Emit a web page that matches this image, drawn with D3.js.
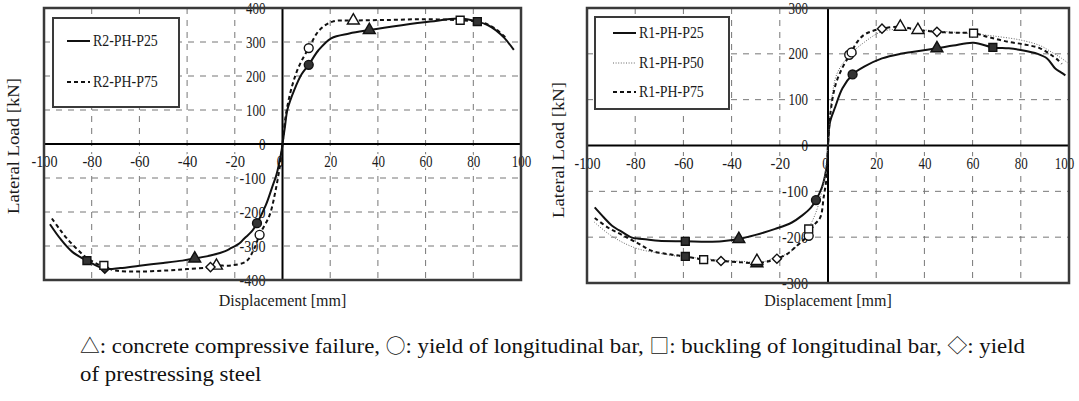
<html>
<head>
<script src="https://cdn.jsdelivr.net/npm/d3@7"></script>
<style>body { margin: 0; background: #fff; }</style>
</head>
<body>
<div id="output"></div>
<script>
    var width = 1079;
    var height = 401;

    var labelFont = '"Liberation Serif", "DejaVu Serif", serif';
    var serifFont = '"Liberation Serif", "DejaVu Serif", serif';
    var symbolFont = '"Noto Sans CJK SC", "DejaVu Sans", sans-serif';
    var inkColor = '#1a1a1a';
    var gridColor = '#777';
    var frameColor = '#3a3a3a';

    // tick values
    var xTicks = [-100, -80, -60, -40, -20, 0, 20, 40, 60, 80, 100];
    var r2YTicks = [-400, -300, -200, -100, 0, 100, 200, 300, 400];
    var r1YTicks = [-300, -200, -100, 0, 100, 200, 300];

    // R2 specimens (left chart), [displacement mm, load kN]
    var r2P25 = [[-97.5,-236],[-93,-280],[-88,-318],[-82,-343],[-74.5,-367],[-68,-365],[-60,-358],[-50,-350],
        [-42,-343],[-36.8,-337],[-29,-326],[-24,-315],[-22,-308],[-18,-292],[-15.9,-277],[-13,-258],[-10.7,-233],
        [-7,-180],[-4,-120],[-2.6,-92],[-0.5,-24],[0,0],[1,50],[2.1,102],[5,160],[8,205],[11,233],[15,275],
        [20.4,311],[28,325],[36.4,335],[50,349],[62,360],[74,369],[81.7,360],[86,350],[89.4,335],[93,312],[97,277]];
    var r2P75 = [[-96.7,-219],[-93.5,-250],[-90.5,-277],[-86,-310],[-82,-335],[-76,-358],[-70,-372],[-60,-375],
        [-48.7,-372],[-40,-368],[-30.2,-362],[-27.7,-358],[-21.5,-357],[-15.2,-345],[-12,-310],[-9.6,-267],
        [-5.4,-209],[-3,-140],[-1,-60],[0,0],[1.5,90],[4,170],[7,230],[11,282],[15.5,335],[21,360],[29.7,363],
        [45,365],[60,367],[74.5,364],[81.7,360],[86,352],[90,335],[94,310]];

    // R1 specimens (right chart)
    var r1P25 = [[-96.8,-135],[-93,-157],[-89.6,-175],[-85,-190],[-81.3,-201],[-75,-205],[-70.3,-208],[-59.2,-209],
        [-50,-210],[-44,-209],[-37,-204],[-30,-195],[-21.9,-182],[-15,-168],[-10.8,-153],[-7,-135],[-5,-119],
        [-2.5,-91],[-0.4,-40],[0,0],[0.8,50],[3,84],[6,125],[10.2,155],[15,172],[22.4,190],[30,200],[34.9,204],
        [45.2,212],[52,218],[60.4,224],[68.4,214],[75,212],[80.5,208],[87,200],[90.9,190],[94.3,168],[96.5,160],[98.5,153]];
    var r1P50 = [[-97,-167],[-91,-193],[-85,-212],[-78.5,-226],[-70,-235],[-63.4,-241],[-55,-245],[-45,-250],
        [-35,-253],[-28,-255],[-22,-245],[-19,-241],[-14,-225],[-10.8,-201],[-7,-170],[-4,-130],[-1.5,-70],[0,0],
        [1.5,100],[4,160],[9.5,200],[15,225],[22,248],[30,254],[40,252],[50,248],[60,244],[70,238],[80,230],
        [88,218],[93,203],[97,190],[100,178]];
    var r1P75 = [[-96.8,-158],[-91,-180],[-85.5,-195],[-79,-213],[-73,-230],[-65,-238],[-59.2,-242],[-51.6,-249],
        [-44.4,-252],[-35.7,-255],[-29.5,-257],[-25,-253],[-21.2,-247],[-17,-237],[-13.6,-222],[-9,-200],[-6,-175],
        [-3.2,-157],[-1.8,-113],[-0.4,-62],[0,0],[1,70],[3,130],[6,170],[9.3,200],[12,225],[14.8,241],[18,249],
        [22.4,255],[30,259],[37.3,252],[45.2,248],[52,246],[60.4,245],[67,236],[75,226],[82,220],[88,212],
        [92,200],[95.7,185],[97,178]];

    // damage markers: [x, y, shape, filled]
    var r2Marks = [[11,233,'circle',1],[36.4,335,'triangle',1],[81.7,360,'square',1],
        [-10.7,-233,'circle',1],[-36.8,-337,'triangle',1],[-82,-343,'square',1],[-74.5,-367,'diamond',1],
        [11,282,'circle',0],[29.7,363,'triangle',0],[74.5,364,'square',0],
        [-9.6,-267,'circle',0],[-27.7,-358,'triangle',0],[-30.2,-362,'diamond',0],[-74.9,-357,'square',0]];
    var r1Marks = [[10.2,155,'circle',1],[45.2,212,'triangle',1],[68.4,214,'square',1],
        [-5,-119,'circle',1],[-37,-204,'triangle',1],[-59.2,-209,'square',1],
        [8.8,198,'circle',0],[9.8,203,'circle',0],[22.4,255,'diamond',0],[30,259,'triangle',0],[37.3,252,'triangle',0],
        [45.2,248,'diamond',0],[60.4,245,'square',0],
        [-59.2,-242,'square',1],[-51.6,-249,'square',0],[-44.4,-252,'diamond',0],[-29.5,-257,'triangle',1],
        [-29.5,-252,'triangle',0],[-21.2,-247,'diamond',0],[-8,-197,'circle',0],[-8,-182,'square',0]];

    // caption pieces: [text, isSymbol]
    var captionLine1 = [['\u25B3', 1], [': concrete compressive failure,  ', 0], ['\u25CB', 1], [': yield of longitudinal bar,  ', 0],
        ['\u25A1', 1], [': buckling of longitudinal bar,  ', 0], ['\u25C7', 1], [': yield', 0]];
    var captionLine2 = 'of prestressing steel';

    var styles = {
        solid:  {dash: null,    width: 2,   color: '#111'},
        dotted: {dash: '1,1.6', width: 1,   color: '#666'},
        dashed: {dash: '4,3',   width: 2,   color: '#111'}
    };

    var svg = d3.select('#output').append('svg')
        .attr('width', width)
        .attr('height', height)
        .style('display', 'block');

    // squeeze text so it looks like the narrow half-width glyphs
    var squeeze = function(sel, charW) {
        sel.attr('textLength', function() { return this.textContent.length * charW; })
           .attr('lengthAdjust', 'spacingAndGlyphs');
    };

    var drawPanel = function(p) {
        var x = d3.scaleLinear().domain([-100, 100]).range([p.left, p.right]);
        var y = d3.scaleLinear().domain([-p.yMax, p.yMax]).range([p.bottom, p.top]);
        var g = svg.append('g');

        // dashed grid
        g.selectAll('.vg').data(xTicks.filter(d => d !== 0 && Math.abs(d) !== 100)).enter()
            .append('line')
            .attr('x1', d => x(d)).attr('x2', d => x(d))
            .attr('y1', p.top).attr('y2', p.bottom)
            .attr('stroke', gridColor).attr('stroke-width', 1).attr('stroke-dasharray', '6,6');
        g.selectAll('.hg').data(p.yTicks.filter(d => d !== 0 && Math.abs(d) !== p.yMax)).enter()
            .append('line')
            .attr('x1', p.left).attr('x2', p.right)
            .attr('y1', d => y(d)).attr('y2', d => y(d))
            .attr('stroke', gridColor).attr('stroke-width', 1).attr('stroke-dasharray', '6,6');

        // tick labels
        var yAxis = d3.axisLeft(y).tickValues(p.yTicks).tickSize(0).tickPadding(p.yPad).tickFormat(d => String(d));
        var ya = g.append('g').attr('transform', 'translate(' + x(0) + ',0)').call(yAxis);
        ya.select('.domain').remove();
        ya.selectAll('text')
            .attr('font-family', labelFont).attr('font-size', 16).attr('fill', inkColor)
            .attr('stroke', d => (d === 0 || Math.abs(d) === p.yMax) ? 'none' : '#fff')
            .attr('stroke-width', 4).attr('paint-order', 'stroke')
            .call(squeeze, 6.5);

        var xAxis = d3.axisBottom(x).tickValues(xTicks).tickSize(0).tickPadding(12).tickFormat(d => String(d));
        var xa = g.append('g').attr('transform', 'translate(0,' + y(0) + ')').call(xAxis);
        xa.select('.domain').remove();
        xa.selectAll('text')
            .attr('font-family', labelFont).attr('font-size', 16).attr('fill', inkColor)
            .attr('x', d => d === 0 ? -3 : (d === 100 ? p.lastShift : 0))
            .attr('stroke', d => Math.abs(d) === 100 ? 'none' : '#fff')
            .attr('stroke-width', 4).attr('paint-order', 'stroke')
            .call(squeeze, 6.5);

        // zero axes and frame
        g.append('line')
            .attr('x1', p.left).attr('x2', p.right).attr('y1', y(0)).attr('y2', y(0))
            .attr('stroke', '#000').attr('stroke-width', 2);
        g.append('line')
            .attr('x1', x(0)).attr('x2', x(0)).attr('y1', p.top).attr('y2', p.bottom)
            .attr('stroke', '#000').attr('stroke-width', 2);
        g.append('rect')
            .attr('x', p.left).attr('y', p.top)
            .attr('width', p.right - p.left).attr('height', p.bottom - p.top)
            .attr('fill', 'none').attr('stroke', frameColor).attr('stroke-width', 2.5);

        // curves
        var line = d3.line().x(d => x(d[0])).y(d => y(d[1])).curve(d3.curveCatmullRom.alpha(0.5));
        p.series.forEach(s => {
            var st = styles[s.style];
            g.append('path')
                .attr('d', line(s.data))
                .attr('fill', 'none')
                .attr('stroke', st.color)
                .attr('stroke-width', st.width)
                .attr('stroke-dasharray', st.dash);
        });

        // markers
        var shapes = {circle: d3.symbolCircle, triangle: d3.symbolTriangle, square: d3.symbolSquare, diamond: d3.symbolSquare};
        g.selectAll('.mk').data(p.marks).enter().append('path')
            .attr('d', d => d3.symbol().type(shapes[d[2]]).size(d[2] === 'diamond' ? 42 : 62)())
            .attr('transform', d => 'translate(' + x(d[0]) + ',' + y(d[1]) + ')' + (d[2] === 'diamond' ? ' rotate(45)' : ''))
            .attr('fill', d => d[3] ? '#333' : '#fff')
            .attr('stroke', '#111').attr('stroke-width', 1.4);

        // legend
        var L = p.legend;
        g.append('rect')
            .attr('x', L.x).attr('y', L.y).attr('width', L.w).attr('height', L.h)
            .attr('fill', '#fff').attr('stroke', frameColor).attr('stroke-width', 2);
        p.series.forEach((s, i) => {
            var st = styles[s.style];
            var ly = L.rows[i];
            g.append('line')
                .attr('x1', L.lineX).attr('x2', L.lineX + 23).attr('y1', ly).attr('y2', ly)
                .attr('stroke', st.color).attr('stroke-width', st.width)
                .attr('stroke-dasharray', st.dash);
            g.append('text')
                .attr('x', L.lineX + 26).attr('y', ly + 5)
                .attr('font-family', labelFont).attr('font-size', 17).attr('fill', inkColor)
                .text(s.name)
                .call(squeeze, 7.2);
        });

        // axis titles
        g.append('text')
            .attr('transform', 'translate(' + p.yLabelX + ',' + p.yLabelY + ') rotate(-90)')
            .attr('text-anchor', 'middle')
            .attr('font-family', labelFont).attr('font-size', 17).attr('fill', inkColor)
            .text('Lateral Load [kN]')
            .call(squeeze, 8);
        g.append('text')
            .attr('x', x(0)).attr('y', 306)
            .attr('text-anchor', 'middle')
            .attr('font-family', labelFont).attr('font-size', 17).attr('fill', inkColor)
            .text('Displacement [mm]')
            .call(squeeze, 7.5);
    };

    drawPanel({
        left: 44, right: 521, top: 8, bottom: 280, yMax: 400, yTicks: r2YTicks, yPad: 17, lastShift: 0,
        series: [{name: 'R2-PH-P25', data: r2P25, style: 'solid'},
                 {name: 'R2-PH-P75', data: r2P75, style: 'dashed'}],
        marks: r2Marks,
        legend: {x: 53, y: 18, w: 126, h: 89, lineX: 67, rows: [41, 82]},
        yLabelX: 19, yLabelY: 146
    });

    drawPanel({
        left: 587, right: 1069, top: 8, bottom: 283, yMax: 300, yTicks: r1YTicks, yPad: 20, lastShift: -5,
        series: [{name: 'R1-PH-P25', data: r1P25, style: 'solid'},
                 {name: 'R1-PH-P50', data: r1P50, style: 'dotted'},
                 {name: 'R1-PH-P75', data: r1P75, style: 'dashed'}],
        marks: r1Marks,
        legend: {x: 595, y: 17, w: 134, h: 92, lineX: 613, rows: [33, 63, 92]},
        yLabelX: 564, yLabelY: 150
    });

    // caption below both charts
    var cap = svg.append('g')
        .attr('font-family', serifFont).attr('font-size', 22).attr('fill', '#111');
    var c1 = cap.append('text').attr('x', 80).attr('y', 353);
    c1.selectAll('tspan').data(captionLine1).enter().append('tspan')
        .attr('font-family', d => d[1] ? symbolFont : null)
        .attr('font-size', d => d[1] ? 19 : null)
        .text(d => d[0]);
    var c2 = cap.append('text').attr('x', 80).attr('y', 381).text(captionLine2);
    var ratio = 945 / c1.node().getComputedTextLength();
    c1.attr('textLength', 945).attr('lengthAdjust', 'spacingAndGlyphs');
    c2.attr('textLength', c2.node().getComputedTextLength() * ratio).attr('lengthAdjust', 'spacingAndGlyphs');
</script>
</body>
</html>
